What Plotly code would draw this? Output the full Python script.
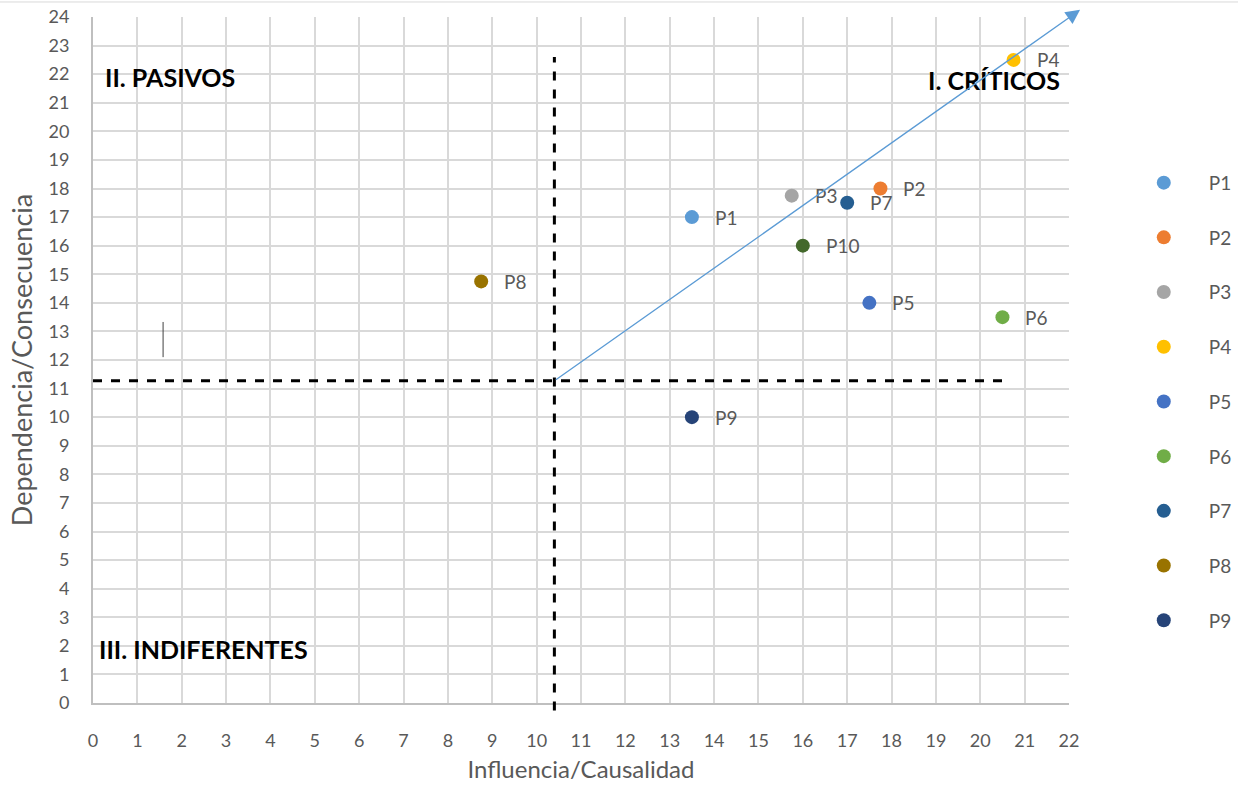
import plotly.graph_objects as go

# Factores del diagrama de influencia / dependencia
labels = ["P1", "P2", "P3", "P4", "P5", "P6", "P7", "P8", "P9", "P10"]
influencia = [13.5, 17.75, 15.75, 20.75, 17.5, 20.5, 17.0, 8.75, 13.5, 16.0]
dependencia = [17.0, 18.0, 17.75, 22.5, 14.0, 13.5, 17.5, 14.75, 10.0, 16.0]
colors = ["#5B9BD5", "#ED7D31", "#A5A5A5", "#FFC000", "#4472C4",
          "#70AD47", "#255E91", "#997300", "#264478", "#43682B"]
in_legend = [True] * 9 + [False]

# Ejes de corte de los cuadrantes
corte_x = 10.4
corte_y = 11.27
corte_v_top = 22.6
corte_h_end = 20.6

# Diagonal de referencia (flecha)
diag_start = (10.4, 11.27)
diag_end = (22.25, 24.25)

x_range = [0, 22]
y_range = [0, 24]

quadrants = [
    ("II. PASIVOS", 0.23, 21.9, "left"),
    ("I. CRÍTICOS", 21.84, 21.8, "right"),
    ("III. INDIFERENTES", 0.09, 1.89, "left"),
    ("IV. ACTIVOS", 22.07, 2.1, "right"),
]

FONT = "Lato"
GREY = "#595959"

fig = go.Figure()

for name, xv, yv, col, leg in zip(labels, influencia, dependencia, colors, in_legend):
    fig.add_trace(go.Scatter(
        x=[xv], y=[yv], mode="markers", name=name,
        marker=dict(color=col, size=14),
        showlegend=leg, legendgroup=name,
    ))

annotations = []
for name, xv, yv in zip(labels, influencia, dependencia):
    annotations.append(dict(
        x=xv, y=yv, xref="x", yref="y", text=name, showarrow=False,
        xanchor="left", yanchor="middle", xshift=21,
        font=dict(family=FONT, size=19, color=GREY),
    ))

for txt, xv, yv, anchor in quadrants:
    annotations.append(dict(
        x=xv, y=yv, xref="x", yref="y", text="<b>" + txt + "</b>",
        showarrow=False, xanchor=anchor, yanchor="middle",
        font=dict(family=FONT, size=25, color="#000000"),
    ))

annotations.append(dict(
    x=diag_end[0], y=diag_end[1], xref="x", yref="y",
    ax=diag_start[0], ay=diag_start[1], axref="x", ayref="y",
    text="", showarrow=True, arrowhead=2, arrowsize=2.2, arrowwidth=1.3,
    arrowcolor="#5B9BD5", standoff=0,
))

shapes = [
    # horizontal cut
    dict(type="line", xref="x", yref="y", x0=0, x1=corte_h_end,
         y0=corte_y, y1=corte_y, line=dict(color="black", width=3, dash="dash")),
    # vertical cut (extends slightly under the axis)
    dict(type="line", xref="paper", yref="paper",
         x0=(corte_x - x_range[0]) / (x_range[1] - x_range[0]),
         x1=(corte_x - x_range[0]) / (x_range[1] - x_range[0]),
         y0=-0.011, y1=(corte_v_top - y_range[0]) / (y_range[1] - y_range[0]),
         line=dict(color="black", width=3, dash="dash")),
    # small mark
    dict(type="line", xref="x", yref="y", x0=1.58, x1=1.58, y0=12.1, y1=13.33,
         line=dict(color="#404040", width=1)),
    # chart border top
    dict(type="line", xref="paper", yref="paper", x0=-0.1, x1=1.2,
         y0=1.0219, y1=1.0219, line=dict(color="#D9D9D9", width=1)),
]

axis_common = dict(
    showgrid=True, gridcolor="#D9D9D9", gridwidth=1.8,
    zeroline=False, showline=True, linecolor="#BFBFBF", linewidth=2,
    dtick=1, ticks="", tickfont=dict(family=FONT, size=18, color=GREY),
)

fig.update_layout(
    width=1238, height=793,
    margin=dict(l=93, r=169, t=17, b=90, autoexpand=False),
    plot_bgcolor="white", paper_bgcolor="white",
    xaxis=dict(range=x_range, ticklabelstandoff=20,
               title=dict(text="Influencia/Causalidad", standoff=12,
                          font=dict(family=FONT, size=24, color=GREY)),
               **axis_common),
    yaxis=dict(range=y_range, ticklabelstandoff=18,
               title=dict(text="Dependencia/Consecuencia", standoff=8,
                          font=dict(family=FONT, size=27, color=GREY)),
               **axis_common),
    legend=dict(x=1.051, xanchor="left", y=0.786, yanchor="top",
                itemwidth=80, tracegroupgap=27,
                font=dict(family=FONT, size=19, color=GREY)),
    annotations=annotations,
    shapes=shapes,
)

fig.write_html("out.html")
